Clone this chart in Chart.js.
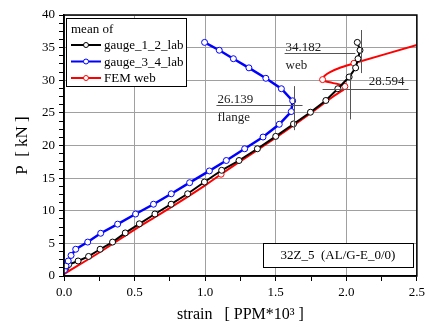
<!DOCTYPE html>
<html>
<head>
<meta charset="utf-8">
<script src="https://cdn.jsdelivr.net/npm/chart.js@4"></script>
<style>
  body { margin:0; background:#fff; }
  #wrap { width:429px; height:328px; }
</style>
</head>
<body>
<div id="wrap"><canvas id="strainChart" width="429" height="328"></canvas></div>
<script>
// data (strain in PPM*10^3, load in kN)
const gauge12 = [
  [0.015,1.3],[0.033,1.75],[0.10,2.3],[0.174,3.0],[0.256,4.1],[0.344,5.2],[0.434,6.6],
  [0.534,8.0],[0.644,9.5],[0.759,11.0],[0.876,12.6],[0.995,14.4],[1.117,16.2],[1.24,17.7],
  [1.37,19.5],[1.50,21.4],[1.626,23.3],[1.746,25.1],[1.855,26.9],[1.94,28.7],[2.02,30.5],
  [2.066,31.9],[2.083,33.3],[2.097,34.6],[2.078,35.8]
];
const gauge34 = [
  [0.003,0.9],[0.014,1.55],[0.03,2.3],[0.05,3.15],[0.083,4.1],[0.168,5.2],[0.26,6.55],
  [0.38,7.95],[0.507,9.5],[0.634,11.0],[0.76,12.6],[0.89,14.3],[1.03,16.1],[1.15,17.7],
  [1.28,19.5],[1.41,21.3],[1.525,23.25],[1.61,25.2],[1.62,26.85],[1.54,28.7],[1.43,30.3],
  [1.31,31.9],[1.20,33.3],[1.10,34.6],[0.996,35.8]
];
const femWeb = [
  [0,0.3],[0.25,3.6],[0.5,7.1],[0.673,9.4],[0.836,11.6],[1.0,13.9],[1.113,15.6],[1.25,17.6],
  [1.5,21.2],[1.75,25.0],[1.9,27.4],[1.996,28.8],[1.99,29.05],[1.95,29.35],[1.9,29.6],
  [1.85,29.85],[1.832,30.1],[1.845,30.65],[1.885,31.25],[1.96,31.95],[2.054,32.6],[2.5,35.4]
];
const femMarks = [6, 12, 16, 20];
const seriesNames = ['gauge_1_2_lab', 'gauge_3_4_lab', 'FEM web'];
const seriesColors = ['#000000', '#0000ff', '#ff0000'];

// crosshair notes
const notes = [
  { label: '34.182', sub: 'web', x: 2.106, y: 34.182, hFrom: 1.563, hTo: 2.064, vFrom: 31.1, vTo: 37.7 },
  { label: '28.594', sub: '', x: 2.024, y: 28.594, hFrom: 1.832, hTo: 2.441, vFrom: 24.0, vTo: 31.1 },
  { label: '26.139', sub: 'flange', x: 1.633, y: 26.139, hFrom: 1.08, hTo: 1.69, vFrom: 22.35, vTo: 29.1 }
];
const specimen = '32Z_5  (AL/G-E_0/0)';

const toXY = arr => arr.map(p => ({x: p[0], y: p[1]}));
const serif = 'Liberation Serif';

const chartDecor = {
  id: 'chartDecor',
  afterDraw(chart) {
    const { ctx, chartArea: a, scales: {x, y} } = chart;
    ctx.save();
    // frame
    ctx.strokeStyle = '#000';
    ctx.lineWidth = 1.5;
    ctx.strokeRect(a.left, a.top, a.right - a.left, a.bottom - a.top);

    // crosshair notes
    ctx.strokeStyle = '#555';
    ctx.lineWidth = 1;
    ctx.fillStyle = '#222';
    ctx.font = '13px "' + serif + '"';
    notes.forEach((n, i) => {
      const py = Math.round(y.getPixelForValue(n.y)) + 0.5;
      const px = Math.round(x.getPixelForValue(n.x)) + 0.5;
      ctx.beginPath();
      ctx.moveTo(x.getPixelForValue(n.hFrom), py);
      ctx.lineTo(x.getPixelForValue(n.hTo), py);
      ctx.moveTo(px, y.getPixelForValue(n.vFrom));
      ctx.lineTo(px, y.getPixelForValue(n.vTo));
      ctx.stroke();
      ctx.textBaseline = 'alphabetic';
      if (i === 1) {
        ctx.textAlign = 'right';
        ctx.fillText(n.label, x.getPixelForValue(n.hTo) - 4, py - 5);
      } else {
        ctx.textAlign = 'left';
        ctx.fillText(n.label, x.getPixelForValue(n.hFrom) + 1, py - 3);
        ctx.fillText(n.sub, x.getPixelForValue(n.hFrom) + 1, py + 15);
      }
    });

    // specimen box
    ctx.font = '13px "' + serif + '"';
    ctx.fillStyle = '#fff';
    const bx = 263, by = 243, bw = 150, bh = 24;
    ctx.fillRect(bx, by, bw, bh);
    ctx.strokeStyle = '#000';
    ctx.lineWidth = 1;
    ctx.strokeRect(bx + 0.5, by + 0.5, bw, bh);
    ctx.fillStyle = '#000';
    ctx.textAlign = 'center';
    ctx.textBaseline = 'middle';
    ctx.fillText(specimen, bx + bw / 2, by + bh / 2 + 1);

    // legend
    const lx = 66.5, ly = 18.5, lw = 120, lh = 68;
    ctx.fillStyle = '#fff';
    ctx.fillRect(lx, ly, lw, lh);
    ctx.strokeStyle = '#000';
    ctx.lineWidth = 1;
    ctx.strokeRect(lx, ly, lw, lh);
    ctx.fillStyle = '#000';
    ctx.textAlign = 'left';
    ctx.textBaseline = 'middle';
    ctx.font = '13px "' + serif + '"';
    ctx.fillText('mean of', 71, 30);
    seriesNames.forEach((name, i) => {
      const ry = 45 + i * 16.5;
      ctx.strokeStyle = seriesColors[i];
      ctx.lineWidth = 2;
      ctx.beginPath();
      ctx.moveTo(71, ry);
      ctx.lineTo(101, ry);
      ctx.stroke();
      ctx.fillStyle = '#fff';
      ctx.lineWidth = 1;
      ctx.beginPath();
      ctx.arc(86, ry, 2.5, 0, Math.PI * 2);
      ctx.fill();
      ctx.stroke();
      ctx.fillStyle = '#000';
      ctx.fillText(name, 104, ry + 1);
    });
    ctx.restore();
  }
};

const lineSet = (label, pts, color, width, extra) => Object.assign({
  label: label,
  data: toXY(pts),
  showLine: true,
  borderColor: color,
  borderWidth: width,
  pointRadius: 3,
  pointBorderWidth: 1,
  pointBorderColor: color,
  pointBackgroundColor: '#fff',
  tension: 0
}, extra || {});

new Chart(document.getElementById('strainChart'), {
  type: 'scatter',
  data: {
    datasets: [
      lineSet(seriesNames[0], gauge12, seriesColors[0], 2, { order: 1 }),
      lineSet(seriesNames[1], gauge34, seriesColors[1], 2.5, { order: 0 }),
      lineSet(seriesNames[2], femWeb, seriesColors[2], 2, {
        order: 2,
        tension: 0.35,
        pointRadius: c => femMarks.includes(c.dataIndex) ? 3 : 0
      })
    ]
  },
  options: {
    responsive: false,
    animation: false,
    devicePixelRatio: 1,
    layout: { padding: { left: 0, top: 15, right: 9, bottom: 0 } },
    plugins: { legend: { display: false }, tooltip: { enabled: false } },
    scales: {
      x: {
        type: 'linear',
        min: 0, max: 2.5,
        afterFit: s => { s.height = 52; },
        border: { color: '#000', width: 1.5 },
        grid: {
          color: c => (Math.round(c.tick.value * 100) % 50 === 0) ? '#a0a0a0' : 'rgba(0,0,0,0)',
          tickColor: '#000',
          tickLength: 5,
          lineWidth: 1
        },
        ticks: {
          stepSize: 0.25,
          color: '#000',
          padding: 4,
          maxRotation: 0,
          autoSkip: false,
          font: { family: serif, size: 13 },
          callback: v => (Math.round(v * 100) % 50 === 0) ? v.toFixed(1) : ''
        },
        title: {
          display: true,
          text: 'strain   [ PPM*10\u00b3 ]',
          color: '#000',
          font: { family: serif, size: 16 },
          padding: { top: 0, bottom: 4 }
        }
      },
      y: {
        type: 'linear',
        min: 0, max: 40,
        afterFit: s => { s.width = 64; },
        border: { color: '#000', width: 1.5 },
        grid: {
          color: c => (Math.round(c.tick.value * 100) % 500 === 0) ? '#a0a0a0' : 'rgba(0,0,0,0)',
          tickColor: '#000',
          tickLength: 5,
          lineWidth: 1
        },
        ticks: {
          stepSize: 1.25,
          color: '#000',
          padding: 4,
          autoSkip: false,
          font: { family: serif, size: 13 },
          callback: v => (Math.round(v * 100) % 500 === 0) ? String(v) : ''
        },
        title: {
          display: true,
          text: 'P  [ kN ]',
          color: '#000',
          font: { family: serif, size: 17 },
          padding: { top: 12, bottom: 0 }
        }
      }
    }
  },
  plugins: [chartDecor]
});
</script>
</body>
</html>
